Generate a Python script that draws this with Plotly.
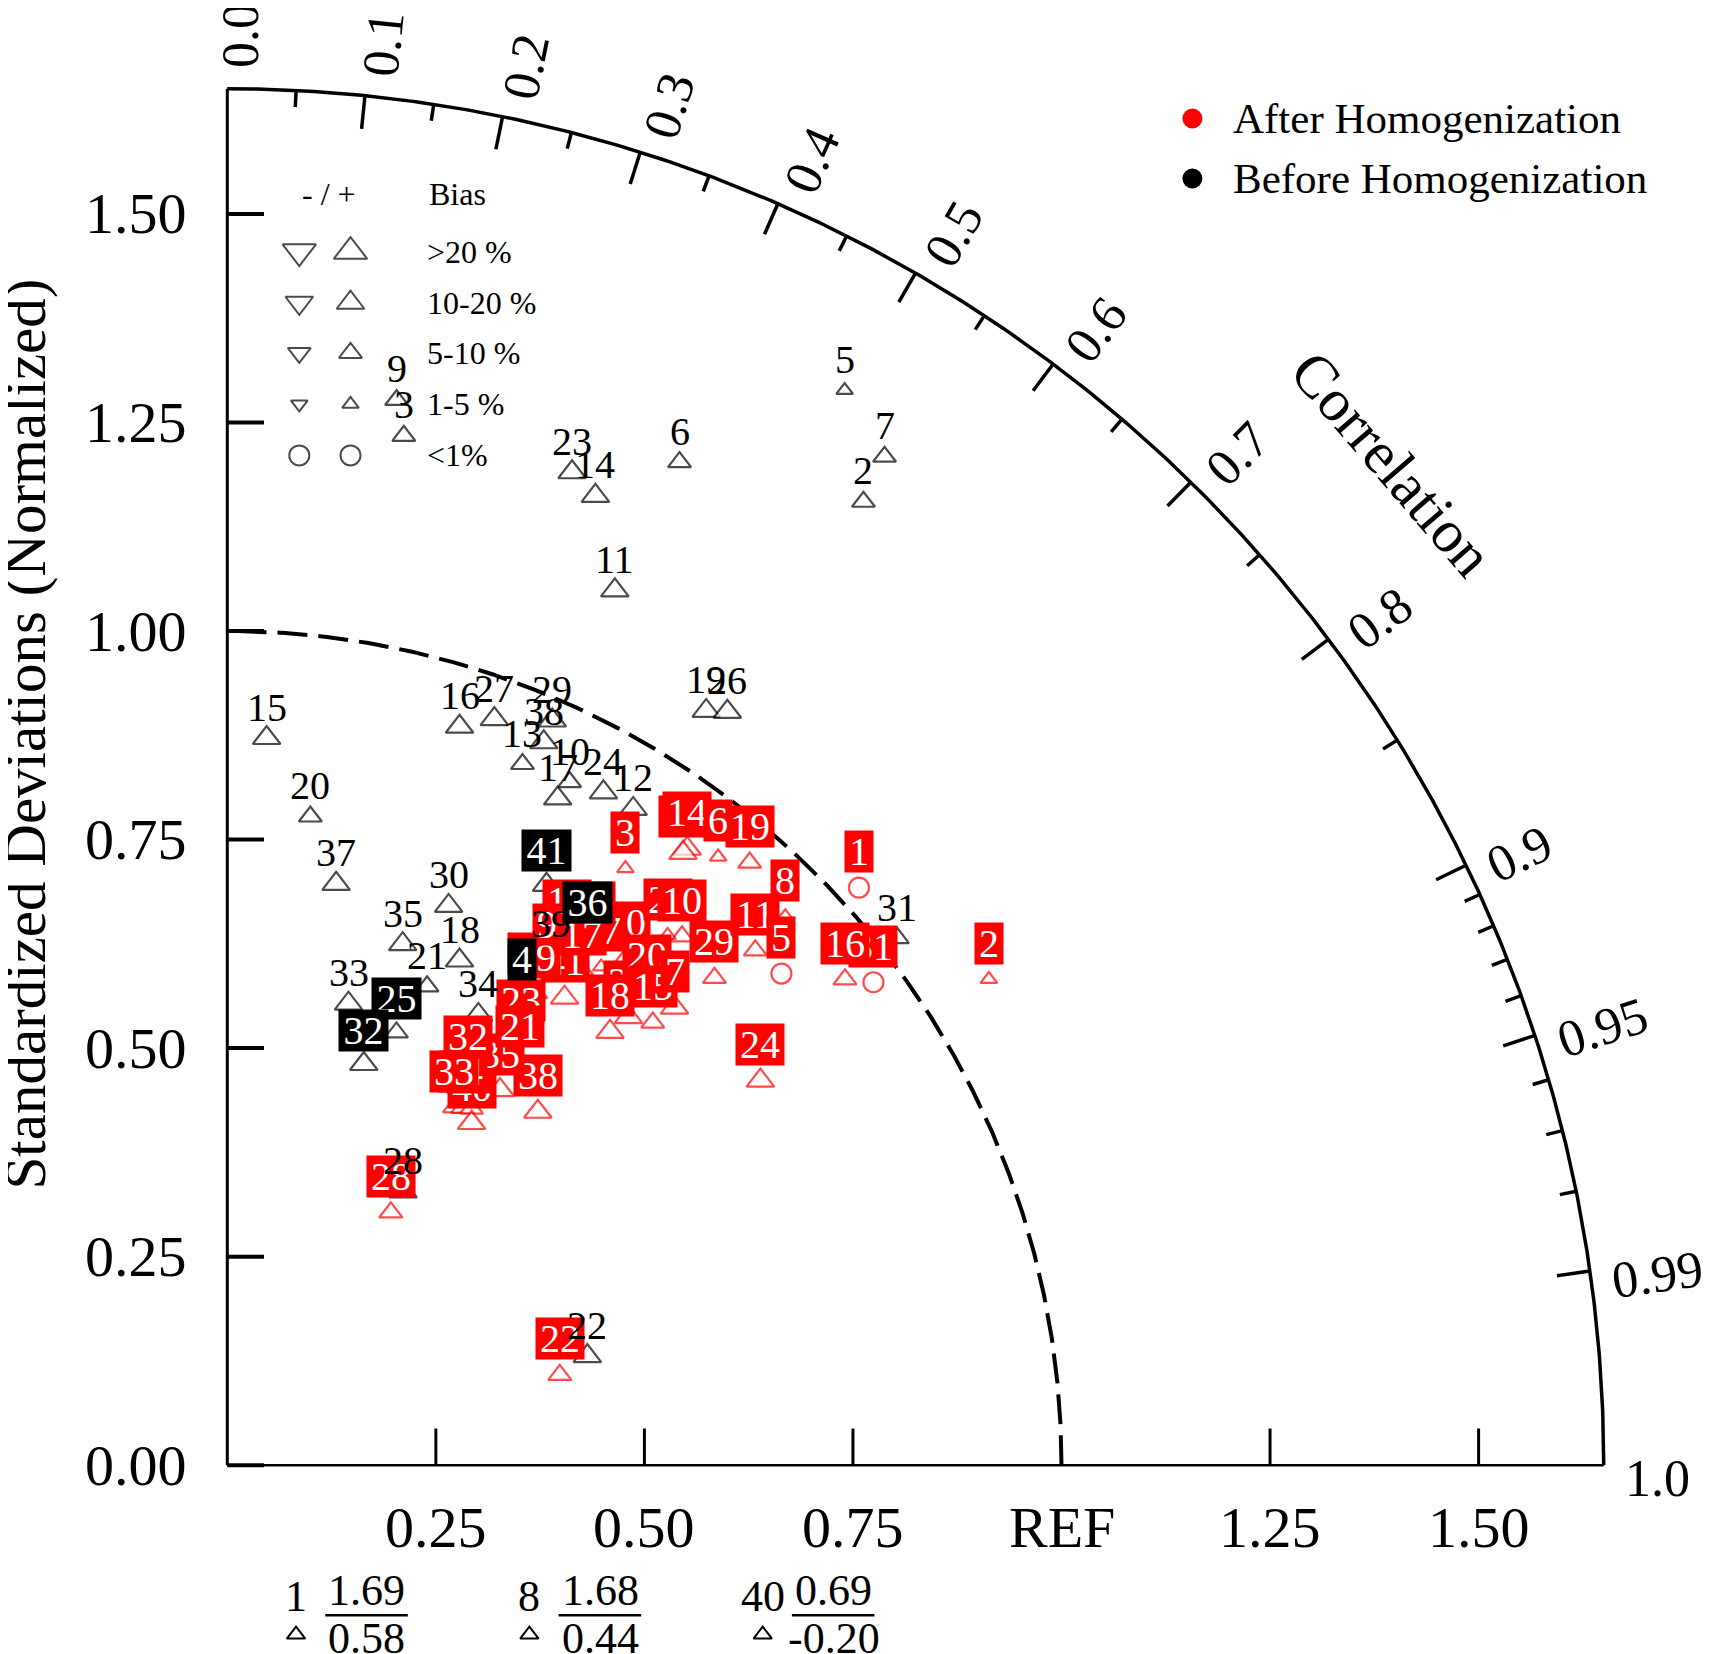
import numpy as np
import plotly.graph_objects as go

# ---------------- data ----------------
stations = list(range(1, 42))

# Before homogenization (normalized std, correlation, bias class 0:<1%,1:1-5%,2:5-10%,3:10-20%,4:>20%)
before_std = [1.69, 1.384, 1.252, 0.667, 1.486, 1.319, 1.443, 1.68, 1.293, 0.916,
              1.147, 0.925, 0.912, 1.243, 0.873, 0.928, 0.892, 0.666, 1.071, 0.784,
              0.622, 0.451, 1.260, 0.924, 0.557, 1.084, 0.950, 0.390, 0.974, 0.721,
              1.022, 0.508, 0.572, 0.618, 0.659, 0.767, 0.709, 0.946, 0.725, 0.69, 0.794]
before_corr = [0.58, 0.551, 0.169, 0.529, 0.498, 0.411, 0.546, 0.44, 0.157, 0.448,
               0.405, 0.526, 0.388, 0.355, 0.054, 0.300, 0.444, 0.418, 0.536, 0.127,
               0.385, 0.957, 0.328, 0.488, 0.364, 0.553, 0.337, 0.540, 0.400, 0.368,
               0.786, 0.322, 0.254, 0.487, 0.319, 0.563, 0.184, 0.401, 0.536, -0.20, 0.482]
before_bias = [2, 2, 2, 3, 1, 2, 2, 2, 2, 2,
               3, 3, 2, 3, 3, 3, 3, 3, 3, 2,
               2, 3, 3, 3, 2, 3, 3, 3, 3, 3,
               2, 3, 3, 3, 3, 3, 3, 3, 2, 2, 3]

# After homogenization
after_std = [1.026, 1.083, 0.860, 0.671, 0.888, 0.937, 0.767, 0.938, 0.716, 0.836,
             0.884, 0.753, 0.767, 0.922, 0.736, 0.942, 0.730, 0.693, 0.956, 0.759,
             0.597, 0.413, 0.623, 0.788, 0.826, 0.721, 0.747, 0.361, 0.826, 0.773,
             0.967, 0.552, 0.508, 0.513, 0.556, 0.915, 0.518, 0.564, 0.676, 0.504, 0.691]
after_corr = [0.738, 0.843, 0.555, 0.526, 0.748, 0.628, 0.699, 0.713, 0.535, 0.652,
              0.716, 0.540, 0.568, 0.598, 0.693, 0.786, 0.582, 0.662, 0.655, 0.663,
              0.587, 0.965, 0.565, 0.811, 0.639, 0.667, 0.600, 0.543, 0.707, 0.618,
              0.801, 0.523, 0.536, 0.550, 0.588, 0.597, 0.565, 0.660, 0.547, 0.581, 0.585]
after_bias = [0, 1, 1, 1, 0, 1, 3, 1, 2, 2,
              2, 2, 2, 3, 2, 2, 2, 3, 2, 2,
              2, 2, 1, 3, 1, 3, 1, 2, 2, 2,
              0, 2, 2, 2, 3, 3, 2, 3, 2, 3, 3]

boxed_before = [4, 25, 32, 36, 41]

y_ticks = [0.0, 0.25, 0.5, 0.75, 1.0, 1.25, 1.5]
y_tick_labels = ["0.00", "0.25", "0.50", "0.75", "1.00", "1.25", "1.50"]
x_ticks = [0.25, 0.5, 0.75, 1.0, 1.25, 1.5]
x_tick_labels = ["0.25", "0.50", "0.75", "REF", "1.25", "1.50"]
corr_label_vals = [0.0, 0.1, 0.2, 0.3, 0.4, 0.5, 0.6, 0.7, 0.8, 0.9, 0.95, 0.99, 1.0]
corr_label_text = ["0.0", "0.1", "0.2", "0.3", "0.4", "0.5", "0.6", "0.7", "0.8", "0.9", "0.95", "0.99", "1.0"]
corr_major = [0.1, 0.2, 0.3, 0.4, 0.5, 0.6, 0.7, 0.8, 0.9, 0.95, 0.99]
corr_minor = [0.05, 0.15, 0.25, 0.35, 0.45, 0.55, 0.65, 0.75, 0.85,
              0.91, 0.92, 0.93, 0.94, 0.96, 0.97, 0.98]
bias_legend_text = ["<1%", "1-5 %", "5-10 %", "10-20 %", ">20 %"]

# ---------------- layout constants ----------------
W, H = 1710, 1654
UNIT = 834.2
X0, Y0 = 219.3, 1457.2
x_range = [-X0 / UNIT, (W - X0) / UNIT]
y_range = [-(H - Y0) / UNIT, Y0 / UNIT]
R_MAX = 1.65
FONT = "Liberation Serif"
TRI_SIZE = {1: 14.5, 2: 20, 3: 24, 4: 29}
CIRC_SIZE = 20
RED = "#ff0000"
LABEL_SIZE = 40


def polar_xy(std, corr):
    std = np.asarray(std, float)
    corr = np.asarray(corr, float)
    return std * corr, std * np.sqrt(np.clip(1 - corr ** 2, 0, None))


def em_len(t):
    return sum(0.25 if ch == "." else 0.5 for ch in t)


fig = go.Figure()

# ---------------- frame ----------------
th = np.linspace(0, np.pi / 2, 500)
fig.add_trace(go.Scatter(x=R_MAX * np.cos(th), y=R_MAX * np.sin(th), mode="lines",
                         line=dict(color="black", width=3.5), hoverinfo="skip"))
fig.add_trace(go.Scatter(x=np.cos(th), y=np.sin(th), mode="lines",
                         line=dict(color="black", width=4, dash="30px,11px"), hoverinfo="skip"))

# correlation ticks
tx, ty = [], []
for c_list, L in ((corr_major, 0.040), (corr_minor, 0.020)):
    for c in c_list:
        a = np.arccos(c)
        tx += [R_MAX * np.cos(a), (R_MAX - L) * np.cos(a), None]
        ty += [R_MAX * np.sin(a), (R_MAX - L) * np.sin(a), None]
fig.add_trace(go.Scatter(x=tx, y=ty, mode="lines", line=dict(color="black", width=3.5),
                         hoverinfo="skip"))

# axis lines
fig.add_shape(type="line", x0=0, y0=0, x1=0, y1=R_MAX, line=dict(color="black", width=3))
fig.add_shape(type="line", x0=0, y0=0, x1=R_MAX, y1=0, line=dict(color="black", width=2.5))
for v in y_ticks:
    fig.add_shape(type="line", x0=0, y0=v, x1=0.044, y1=v, line=dict(color="black", width=4))
for v in x_ticks:
    if v != 1.0:
        fig.add_shape(type="line", x0=v, y0=0, x1=v, y1=0.044, line=dict(color="black", width=3))

# tick labels
for v, t in zip(y_ticks, y_tick_labels):
    fig.add_annotation(x=-0.046, y=v, text=t, showarrow=False, xanchor="right", yanchor="middle",
                       font=dict(family=FONT, size=58, color="black"))
for v, t in zip(x_ticks, x_tick_labels):
    fig.add_annotation(x=v, y=-0.0745, text=t, showarrow=False, xanchor="center", yanchor="middle",
                       font=dict(family=FONT, size=58, color="black"))

for c, t in zip(corr_label_vals, corr_label_text):
    a = np.arccos(c)
    half = em_len(t) * 52 / 2 / UNIT
    r = R_MAX + 0.025 + half
    off = 0.016
    fig.add_annotation(x=r * np.cos(a) + off * np.sin(a), y=r * np.sin(a) - off * np.cos(a),
                       text=t, showarrow=False, textangle=-np.degrees(a),
                       font=dict(family=FONT, size=52, color="black"))

fig.add_annotation(x=1.396, y=1.200, text="Correlation", showarrow=False, textangle=49.3,
                   font=dict(family=FONT, size=60, color="black"))
fig.add_annotation(x=-0.242, y=0.8765, text="Standardized Deviations (Normalized)",
                   showarrow=False, textangle=-90, font=dict(family=FONT, size=59, color="black"))

# ---------------- data markers ----------------
bx, by = polar_xy(before_std, before_corr)
ax_, ay_ = polar_xy(after_std, after_corr)


def on_chart(s, c):
    return s <= R_MAX and c >= 0


def add_markers(x, y, std, corr, bias, color):
    idx = [i for i in range(len(std)) if on_chart(std[i], corr[i])]
    fig.add_trace(go.Scatter(
        x=[x[i] for i in idx], y=[y[i] for i in idx], mode="markers",
        marker=dict(symbol=["circle" if bias[i] == 0 else "triangle-up" for i in idx],
                    size=[CIRC_SIZE if bias[i] == 0 else TRI_SIZE[bias[i]] for i in idx],
                    color="white", line=dict(color=color, width=2.2)),
        hoverinfo="skip", cliponaxis=False))


add_markers(bx, by, before_std, before_corr, before_bias, "black")
add_markers(ax_, ay_, after_std, after_corr, after_bias, RED)

# red labels (drawn from last to first)
for i in reversed(range(len(stations))):
    if not on_chart(after_std[i], after_corr[i]):
        continue
    t = str(stations[i])
    fig.add_annotation(x=ax_[i], y=ay_[i], yshift=36, text=t, showarrow=False,
                       font=dict(family=FONT, size=LABEL_SIZE, color="white"), bgcolor=RED,
                       width=28 if len(t) == 1 else 48, height=41, borderpad=0,
                       align="center", valign="middle")

# black labels
for i in range(len(stations)):
    if not on_chart(before_std[i], before_corr[i]):
        continue
    t = str(stations[i])
    if stations[i] in boxed_before:
        fig.add_annotation(x=bx[i], y=by[i], yshift=34, text=t, showarrow=False,
                           font=dict(family=FONT, size=LABEL_SIZE, color="white"), bgcolor="black",
                           width=28 if len(t) == 1 else 49, height=41, borderpad=0,
                           align="center", valign="middle")
    else:
        fig.add_annotation(x=bx[i], y=by[i], yshift=31, text=t, showarrow=False,
                           font=dict(family=FONT, size=LABEL_SIZE, color="black"))

# off-chart points listed under the axis
off_idx = [i for i in range(len(stations)) if not on_chart(before_std[i], before_corr[i])]
ox, oy = [], []
for k, i in enumerate(off_idx):
    xg = 0.0824 + k * 0.2797
    fig.add_annotation(x=xg, y=-0.157, text=str(stations[i]), showarrow=False,
                       font=dict(family=FONT, size=44, color="black"))
    ox.append(xg)
    oy.append(-0.203)
    fig.add_annotation(x=xg + 0.085, y=-0.150, text=f"{before_std[i]:.2f}", showarrow=False,
                       font=dict(family=FONT, size=44, color="black"))
    fig.add_shape(type="line", x0=xg + 0.035, x1=xg + 0.134, y0=-0.180, y1=-0.180,
                  line=dict(color="black", width=2.5))
    fig.add_annotation(x=xg + 0.085, y=-0.208, text=f"{before_corr[i]:.2f}", showarrow=False,
                       font=dict(family=FONT, size=44, color="black"))
fig.add_trace(go.Scatter(x=ox, y=oy, mode="markers",
                         marker=dict(symbol="triangle-up", size=16, color="white",
                                     line=dict(color="black", width=2)),
                         hoverinfo="skip", cliponaxis=False))

# ---------------- legends ----------------
fig.add_trace(go.Scatter(x=[1.1569, 1.1569], y=[1.6144, 1.5425], mode="markers",
                         marker=dict(symbol="circle", size=20, color=[RED, "black"]),
                         hoverinfo="skip"))
for yy, t in ((1.6144, "After Homogenization"), (1.5425, "Before Homogenization")):
    fig.add_annotation(x=1.2026, y=yy, text=t, showarrow=False, xanchor="left",
                       font=dict(family=FONT, size=43, color="black"))

leg_rows_y = [1.2105, 1.2719, 1.3333, 1.3935, 1.4549]  # <1%, 1-5, 5-10, 10-20, >20
fig.add_annotation(x=0.1216, y=1.5242, text="- / +", showarrow=False,
                   font=dict(family=FONT, size=32, color="black"))
fig.add_annotation(x=0.2392, y=1.5242, text="Bias", showarrow=False, xanchor="left",
                   font=dict(family=FONT, size=32, color="black"))
lx, ly, lsym, lsize = [], [], [], []
for cls, (yy, t) in enumerate(zip(leg_rows_y, bias_legend_text)):
    for xx, sym in ((0.0863, "triangle-down"), (0.1477, "triangle-up")):
        lx.append(xx)
        ly.append(yy)
        lsym.append("circle" if cls == 0 else sym)
        lsize.append(20 if cls == 0 else TRI_SIZE[cls])
    fig.add_annotation(x=0.2366, y=yy, text=t, showarrow=False, xanchor="left",
                       font=dict(family=FONT, size=32, color="black"))
fig.add_trace(go.Scatter(x=lx, y=ly, mode="markers",
                         marker=dict(symbol=lsym, size=lsize, color="white",
                                     line=dict(color="black", width=2)),
                         hoverinfo="skip"))

fig.update_layout(
    width=W, height=H, margin=dict(l=0, r=0, t=0, b=0),
    xaxis=dict(range=x_range, visible=False, fixedrange=True),
    yaxis=dict(range=y_range, visible=False, fixedrange=True),
    plot_bgcolor="white", paper_bgcolor="white", showlegend=False,
    template="none",
)

fig.write_html("out.html")
